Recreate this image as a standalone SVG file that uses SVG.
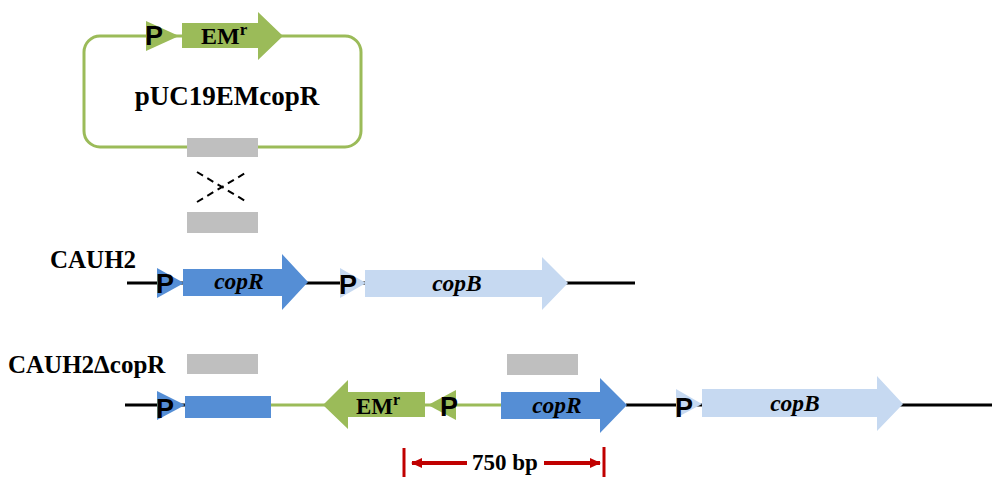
<svg xmlns="http://www.w3.org/2000/svg" width="1000" height="493" viewBox="0 0 1000 493">
<defs>
<style>
.p{font-family:"Liberation Sans",Arial,sans-serif;font-weight:bold;font-size:27px;fill:#000}
.lbl{font-family:"Liberation Serif","Times New Roman",serif;font-weight:bold;fill:#000}
.gene{font-family:"Liberation Serif","Times New Roman",serif;font-weight:bold;font-style:italic;font-size:23.5px;fill:#000}
.blue{fill:#558ED5}
.lblue{fill:#C6D9F1}
.green{fill:#9BBB59}
.gray{fill:#BFBFBF}
.dna{stroke:#000;stroke-width:3;fill:none}
.gdna{stroke:#9BBB59;stroke-width:3;fill:none}
.red{stroke:#C00000;fill:none}
</style>
<marker id="ah" markerWidth="12" markerHeight="12" refX="10" refY="6" orient="auto" markerUnits="userSpaceOnUse"><path d="M0,1 L11,6 L0,11 Z" fill="#C00000"/></marker>
</defs>
<rect width="1000" height="493" fill="#fff"/>

<g id="plasmid">
<rect x="84" y="36" width="277" height="111" rx="16" ry="16" class="gdna"/>
<path class="green" d="M146,21 L179,36 L146,51 Z"/>
<text class="p" x="145" y="45" font-size="25">P</text>
<path class="green" d="M182,23 H258 V12 L283,36 L258,60 V48 H182 Z"/>
<text class="lbl" x="201" y="44" font-size="24">EM<tspan font-size="17" dy="-9">r</tspan></text>
<text class="lbl" x="227" y="105" font-size="27" text-anchor="middle">pUC19EMcopR</text>
<rect class="gray" x="187" y="138" width="71" height="19"/>
</g>

<g id="connectors">
<path d="M197,172 L247,202 M197,202 L247,172" stroke="#000" stroke-width="2" stroke-dasharray="7,5" fill="none"/>
<line class="red" x1="404" y1="448" x2="404" y2="477" stroke-width="3"/>
<line class="red" x1="604" y1="447" x2="604" y2="477" stroke-width="3"/>
<line class="red" x1="467" y1="463" x2="412" y2="463" stroke-width="4" marker-end="url(#ah)"/>
<line class="red" x1="544" y1="463" x2="600" y2="463" stroke-width="4" marker-end="url(#ah)"/>
</g>

<g id="homology">
<rect class="gray" x="187" y="212" width="71" height="21"/>
</g>

<g id="CAUH2">
<text class="lbl" x="50" y="268" font-size="25">CAUH2</text>
<line class="dna" x1="127" y1="283" x2="635" y2="283"/>
<path class="blue" d="M157,268 L184,283 L157,298 Z"/>
<text class="p" x="156" y="293">P</text>
<path class="blue" d="M183,269 H282 V254 L308,282 L282,310 V296 H183 Z"/>
<text class="gene" x="239" y="289" text-anchor="middle">copR</text>
<path class="lblue" d="M340,268 L366,283 L340,298 Z"/>
<text class="p" x="339" y="294">P</text>
<path class="lblue" d="M365,270 H542 V257 L568,283 L542,310 V297 H365 Z"/>
<text class="gene" x="457" y="291" text-anchor="middle">copB</text>
</g>

<g id="CAUH2dcopR">
<text class="lbl" x="8" y="373" font-size="25">CAUH2ΔcopR</text>
<rect class="gray" x="187" y="354" width="71" height="20"/>
<rect class="gray" x="507" y="354" width="71" height="21"/>
<line class="dna" x1="125" y1="405" x2="185" y2="405"/>
<line class="gdna" x1="270" y1="405" x2="502" y2="405"/>
<line class="dna" x1="626" y1="405" x2="992" y2="405"/>
<path class="blue" d="M157,391 L185,405 L157,420 Z"/>
<text class="p" x="156" y="418">P</text>
<rect class="blue" x="185" y="396" width="86" height="22"/>
<path class="green" d="M425,392 H348 V380 L323,405 L348,429 V417 H425 Z"/>
<text class="lbl" x="356" y="414" font-size="23">EM<tspan font-size="16" dy="-9">r</tspan></text>
<path class="green" d="M456,390 L428,405 L456,420 Z"/>
<text class="p" x="440" y="416">P</text>
<path class="blue" d="M501,392 H600 V378 L627,405 L600,433 V419 H501 Z"/>
<text class="gene" x="557" y="413" text-anchor="middle">copR</text>
<path class="lblue" d="M676,389 L702,404 L676,418 Z"/>
<text class="p" x="675" y="417">P</text>
<path class="lblue" d="M702,389 H877 V376 L903,404 L877,431 V417 H702 Z"/>
<text class="gene" x="795" y="411" text-anchor="middle">copB</text>
</g>

<g id="size">
<text class="lbl" x="505" y="470" font-size="23" text-anchor="middle">750 bp</text>
</g>
</svg>
